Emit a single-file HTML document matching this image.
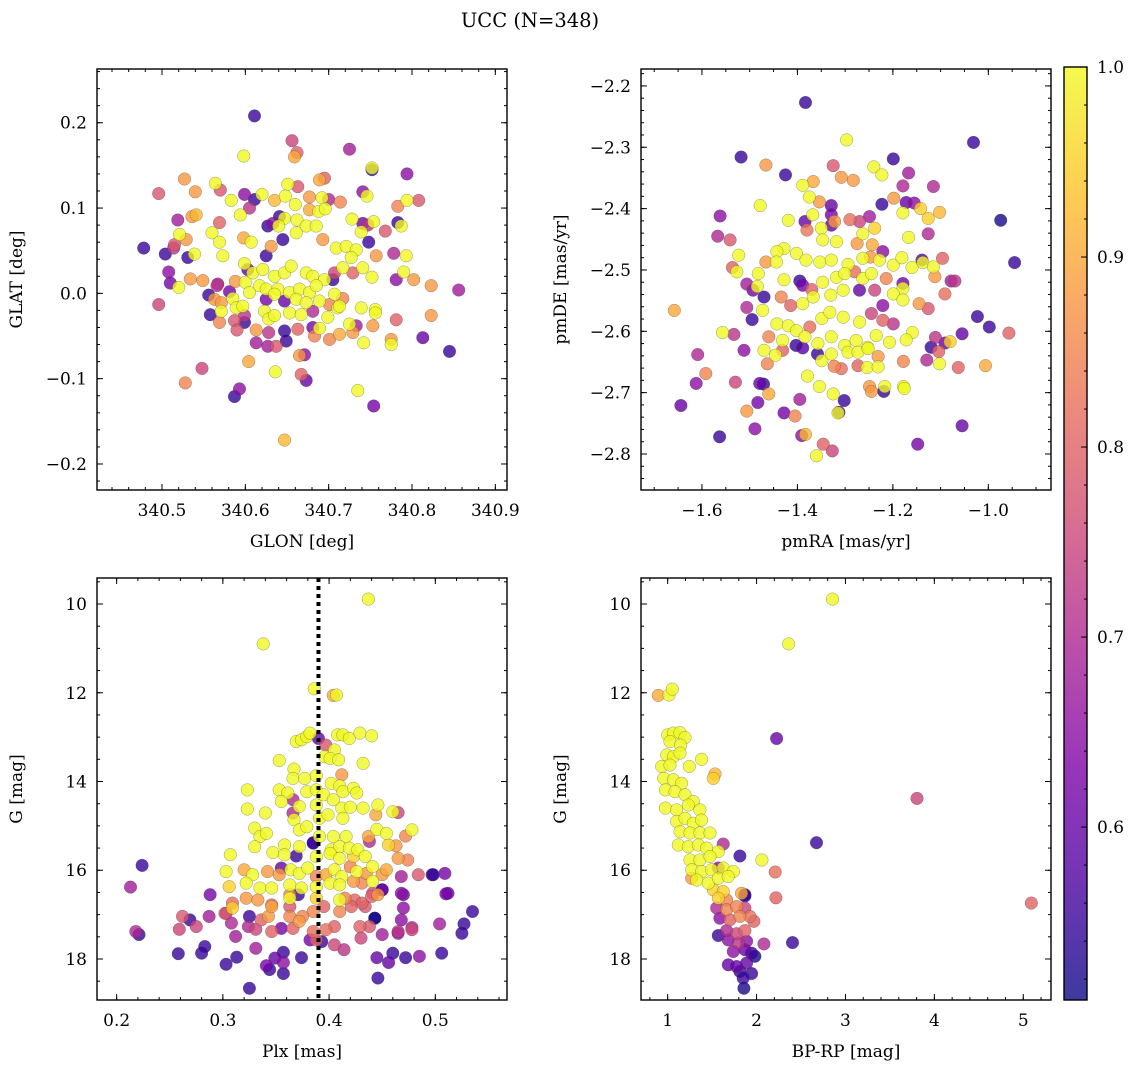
<!DOCTYPE html>
<html><head><meta charset="utf-8"><title>UCC (N=348)</title>
<style>
html,body{margin:0;padding:0;background:#fff;}
svg{display:block;font-family:"DejaVu Serif","Liberation Serif",serif;}
</style></head>
<body>
<svg id="fig" width="1136" height="1067" viewBox="0 0 1136 1067" xmlns="http://www.w3.org/2000/svg">
<defs>
<linearGradient id="plasmaGrad" x1="0" y1="1" x2="0" y2="0">
<stop offset="0" stop-color="#0d0887"/><stop offset="0.125" stop-color="#4c02a1"/><stop offset="0.25" stop-color="#7e03a8"/><stop offset="0.375" stop-color="#a92395"/><stop offset="0.5" stop-color="#cc4778"/><stop offset="0.625" stop-color="#e56b5d"/><stop offset="0.75" stop-color="#f89540"/><stop offset="0.875" stop-color="#fdc527"/><stop offset="1" stop-color="#f0f921"/>
</linearGradient>
</defs>
<text x="530" y="27" text-anchor="middle" font-size="19.5">UCC (N=348)</text>
</svg>
<script>
// ---------- Panel 1: GLON vs GLAT ----------
const glon = [340.611,340.656,340.662,340.659,340.598,340.725,340.752,340.752,340.794,340.527,340.496,340.54,340.564,340.57,340.651,340.663,340.689,340.695,340.599,340.611,340.62,340.583,340.635,340.648,340.66,340.677,340.692,340.7,340.714,340.741,340.746,340.783,340.794,340.808,340.594,340.605,340.677,340.688,340.696,340.519,340.536,340.541,340.569,340.641,340.647,340.662,340.673,340.685,340.728,340.754,340.741,340.747,340.783,340.787,340.768,340.521,340.529,340.56,340.569,340.598,340.607,340.627,340.633,340.64,340.645,340.661,340.739,340.748,340.478,340.504,340.514,340.515,340.531,340.539,340.573,340.599,340.603,340.625,340.631,340.693,340.709,340.721,340.733,340.727,340.757,340.778,340.793,340.508,340.51,340.52,340.534,340.549,340.566,340.588,340.6,340.609,340.621,340.635,340.647,340.655,340.673,340.681,340.695,340.707,340.717,340.729,340.741,340.752,340.781,340.79,340.802,340.823,340.856,340.496,340.556,340.567,340.581,340.558,340.563,340.571,340.571,340.585,340.589,340.597,340.605,340.617,340.625,340.639,340.653,340.665,340.677,340.685,340.625,340.635,340.647,340.661,340.673,340.689,340.705,340.707,340.701,340.717,340.711,340.739,340.756,340.756,340.823,340.569,340.587,340.59,340.599,340.599,340.623,340.628,340.635,340.653,340.667,340.681,340.699,340.713,340.613,340.628,340.647,340.663,340.681,340.689,340.683,340.701,340.713,340.725,340.733,340.729,340.742,340.753,340.775,340.775,340.781,340.813,340.845,340.613,340.627,340.637,340.649,340.665,340.671,340.604,340.636,340.667,340.673,340.548,340.528,340.593,340.587,340.735,340.754,340.647];
const glat = [0.208,0.179,0.165,0.16,0.161,0.169,0.145,0.147,0.14,0.134,0.117,0.119,0.129,0.121,0.128,0.125,0.133,0.135,0.116,0.11,0.116,0.109,0.109,0.114,0.104,0.113,0.112,0.11,0.107,0.119,0.114,0.102,0.109,0.109,0.092,0.1,0.098,0.096,0.099,0.086,0.09,0.092,0.083,0.09,0.088,0.086,0.079,0.079,0.087,0.084,0.082,0.08,0.083,0.079,0.073,0.069,0.063,0.071,0.06,0.065,0.06,0.079,0.082,0.079,0.063,0.071,0.072,0.06,0.053,0.046,0.053,0.057,0.042,0.046,0.044,0.035,0.028,0.044,0.055,0.063,0.053,0.055,0.051,0.042,0.044,0.047,0.044,0.025,0.012,0.007,0.017,0.015,0.009,0.014,0.013,0.024,0.028,0.02,0.024,0.032,0.024,0.02,0.016,0.024,0.03,0.024,0.03,0.019,0.016,0.025,0.016,0.009,0.004,-0.013,-0.002,0.011,0.002,-0.025,-0.007,-0.011,-0.021,-0.006,-0.017,-0.015,0.001,0.009,0.005,0.005,0.001,0.005,0.001,0.009,-0.007,-0.001,-0.009,-0.007,-0.011,-0.009,0.016,-0.001,-0.013,-0.006,-0.017,-0.017,-0.019,-0.023,-0.026,-0.034,-0.032,-0.043,-0.026,-0.034,-0.021,-0.03,-0.026,-0.023,-0.025,-0.021,-0.028,-0.015,-0.043,-0.046,-0.044,-0.042,-0.04,-0.041,-0.05,-0.054,-0.048,-0.036,-0.038,-0.046,-0.058,-0.038,-0.054,-0.06,-0.031,-0.052,-0.068,-0.058,-0.062,-0.062,-0.056,-0.073,-0.072,-0.08,-0.092,-0.095,-0.102,-0.088,-0.105,-0.112,-0.121,-0.114,-0.132,-0.172];
const prob1 = [0.55,0.75,0.8,0.9,1.0,0.68,0.55,1.0,0.65,0.88,0.78,0.88,1.0,0.78,1.0,0.78,0.9,0.8,0.65,0.55,1.0,1.0,0.92,1.0,1.0,0.88,1.0,0.7,0.85,0.65,1.0,0.85,1.0,0.78,1.0,0.72,0.9,1.0,1.0,0.68,0.88,0.92,0.8,0.55,1.0,1.0,1.0,1.0,1.0,1.0,0.62,0.72,0.55,1.0,0.78,1.0,0.88,1.0,1.0,0.9,1.0,0.55,0.65,1.0,0.55,1.0,1.0,0.55,0.55,0.55,0.72,0.78,0.55,1.0,1.0,1.0,0.6,0.55,0.88,0.88,1.0,1.0,1.0,1.0,0.88,0.7,1.0,0.65,0.62,1.0,0.88,0.88,0.72,0.88,1.0,1.0,1.0,1.0,1.0,1.0,1.0,1.0,1.0,0.75,1.0,0.8,1.0,1.0,0.65,1.0,0.88,0.88,0.68,0.75,0.55,0.68,0.62,0.55,0.88,0.88,1.0,1.0,1.0,1.0,1.0,1.0,1.0,1.0,1.0,1.0,1.0,1.0,0.62,1.0,0.6,1.0,1.0,1.0,0.55,1.0,0.85,0.85,1.0,1.0,1.0,1.0,0.88,0.85,0.78,0.78,0.72,0.55,1.0,1.0,1.0,1.0,1.0,0.7,1.0,1.0,0.88,0.72,0.55,0.8,0.62,1.0,0.85,0.85,0.9,1.0,0.68,0.88,1.0,0.88,0.88,1.0,0.8,0.6,0.55,0.68,0.68,0.78,0.55,0.88,0.65,0.9,1.0,0.8,0.6,0.75,0.85,0.65,0.55,1.0,0.62,0.92];

// ---------- Panel 2: pmRA vs pmDE ----------
const pmra = [-1.383,-1.031,-0.974,-0.945,-0.957,-1.518,-1.466,-1.425,-1.297,-1.199,-1.24,-1.223,-1.325,-1.308,-1.283,-1.167,-1.115,-1.179,-1.367,-1.389,-1.478,-1.375,-1.354,-1.329,-1.223,-1.198,-1.172,-1.155,-1.142,-1.179,-1.126,-1.102,-1.562,-1.567,-1.541,-1.419,-1.368,-1.329,-1.384,-1.38,-1.35,-1.329,-1.322,-1.29,-1.27,-1.249,-1.238,-1.263,-1.347,-1.318,-1.275,-1.243,-1.167,-1.126,-1.523,-1.428,-1.443,-1.402,-1.466,-1.444,-1.382,-1.353,-1.329,-1.294,-1.263,-1.247,-1.228,-1.221,-1.199,-1.181,-1.16,-1.139,-1.137,-1.096,-1.115,-1.536,-1.527,-1.482,-1.428,-1.395,-1.389,-1.37,-1.347,-1.318,-1.301,-1.28,-1.263,-1.245,-1.214,-1.179,-1.179,-1.112,-1.078,-1.506,-1.493,-1.484,-1.47,-1.434,-1.414,-1.389,-1.367,-1.33,-1.304,-1.27,-1.238,-1.221,-1.199,-1.179,-1.145,-1.126,-1.091,-1.07,-1.506,-1.495,-1.473,-1.443,-1.419,-1.402,-1.374,-1.349,-1.332,-1.304,-1.27,-1.245,-1.221,-1.199,-1.023,-0.998,-1.055,-1.111,-1.08,-1.091,-1.104,-1.12,-1.129,-1.102,-1.063,-1.006,-1.159,-1.172,-1.178,-1.207,-1.235,-1.253,-1.277,-1.301,-1.329,-1.357,-1.384,-1.403,-1.431,-1.46,-1.47,-1.446,-1.431,-1.389,-1.358,-1.349,-1.329,-1.308,-1.294,-1.273,-1.252,-1.231,-1.254,-1.231,-1.273,-1.323,-1.463,-1.557,-1.533,-1.512,-1.609,-1.592,-1.612,-1.644,-1.658,-1.563,-1.53,-1.479,-1.471,-1.46,-1.483,-1.506,-1.428,-1.405,-1.395,-1.489,-1.391,-1.383,-1.346,-1.327,-1.36,-1.379,-1.354,-1.325,-1.313,-1.315,-1.302,-1.249,-1.245,-1.219,-1.217,-1.178,-1.176,-1.055,-1.148];
const pmde = [-2.227,-2.292,-2.419,-2.488,-2.603,-2.316,-2.329,-2.345,-2.288,-2.319,-2.332,-2.345,-2.33,-2.349,-2.354,-2.342,-2.364,-2.363,-2.356,-2.362,-2.395,-2.381,-2.389,-2.395,-2.393,-2.383,-2.39,-2.391,-2.4,-2.407,-2.416,-2.406,-2.412,-2.445,-2.451,-2.419,-2.41,-2.41,-2.421,-2.435,-2.432,-2.427,-2.421,-2.418,-2.421,-2.413,-2.432,-2.441,-2.451,-2.454,-2.457,-2.459,-2.447,-2.441,-2.476,-2.465,-2.47,-2.473,-2.487,-2.487,-2.484,-2.487,-2.484,-2.491,-2.481,-2.479,-2.484,-2.47,-2.492,-2.48,-2.496,-2.484,-2.488,-2.481,-2.495,-2.496,-2.503,-2.506,-2.516,-2.518,-2.525,-2.532,-2.52,-2.512,-2.506,-2.503,-2.514,-2.506,-2.514,-2.522,-2.53,-2.511,-2.518,-2.523,-2.533,-2.527,-2.544,-2.544,-2.558,-2.555,-2.544,-2.541,-2.533,-2.533,-2.533,-2.558,-2.539,-2.549,-2.555,-2.563,-2.539,-2.518,-2.561,-2.581,-2.566,-2.588,-2.591,-2.599,-2.593,-2.579,-2.569,-2.577,-2.585,-2.571,-2.582,-2.588,-2.576,-2.593,-2.604,-2.61,-2.617,-2.619,-2.633,-2.626,-2.647,-2.653,-2.659,-2.656,-2.602,-2.614,-2.649,-2.618,-2.607,-2.626,-2.615,-2.623,-2.609,-2.62,-2.609,-2.623,-2.615,-2.609,-2.631,-2.639,-2.631,-2.627,-2.637,-2.648,-2.637,-2.661,-2.634,-2.634,-2.628,-2.641,-2.659,-2.658,-2.656,-2.657,-2.653,-2.602,-2.605,-2.631,-2.638,-2.669,-2.685,-2.721,-2.566,-2.772,-2.683,-2.685,-2.686,-2.702,-2.716,-2.73,-2.733,-2.738,-2.711,-2.759,-2.77,-2.768,-2.784,-2.795,-2.803,-2.673,-2.69,-2.702,-2.732,-2.733,-2.713,-2.69,-2.698,-2.698,-2.69,-2.69,-2.693,-2.754,-2.784];
const prob2 = [0.55,0.55,0.52,0.55,0.8,0.55,0.88,0.55,1.0,0.55,1.0,1.0,0.78,0.88,0.88,0.68,0.7,0.7,0.9,1.0,1.0,1.0,0.88,0.6,0.55,0.88,0.6,0.65,0.95,1.0,0.95,0.92,0.65,0.7,0.78,1.0,1.0,0.62,0.6,0.83,1.0,0.6,0.88,0.82,0.75,0.68,0.95,1.0,1.0,1.0,0.88,0.9,1.0,0.7,1.0,1.0,1.0,1.0,0.88,1.0,1.0,1.0,1.0,1.0,1.0,0.88,1.0,0.65,1.0,1.0,1.0,0.58,1.0,0.8,1.0,0.8,1.0,1.0,1.0,0.55,0.62,0.8,1.0,1.0,1.0,0.82,1.0,1.0,0.85,0.62,1.0,0.88,0.68,0.68,0.62,1.0,0.55,0.85,0.8,1.0,1.0,1.0,1.0,0.6,0.75,0.65,1.0,1.0,0.88,0.78,0.82,0.72,0.7,0.55,1.0,1.0,1.0,1.0,0.82,1.0,1.0,1.0,1.0,0.75,0.8,0.72,0.55,0.55,0.6,0.72,0.95,0.6,0.8,0.55,0.7,1.0,0.8,0.9,1.0,1.0,0.85,1.0,1.0,1.0,1.0,1.0,1.0,1.0,1.0,0.55,1.0,0.85,1.0,1.0,0.8,0.58,0.55,1.0,1.0,0.82,1.0,1.0,1.0,0.88,1.0,1.0,0.8,0.85,0.85,1.0,0.72,0.65,0.7,0.85,0.65,0.6,0.9,0.55,0.75,0.6,0.55,0.9,0.62,0.88,0.62,0.85,0.68,0.65,0.65,0.92,0.8,0.75,1.0,1.0,1.0,1.0,0.55,1.0,0.55,0.88,0.88,0.55,1.0,1.0,1.0,0.6,0.62];

// ---------- Panel 3: Plx vs G ----------
const plx = [0.437,0.338,0.386,0.404,0.407,0.369,0.374,0.379,0.382,0.39,0.397,0.408,0.413,0.419,0.429,0.44,0.405,0.396,0.401,0.409,0.353,0.367,0.432,0.412,0.366,0.377,0.388,0.402,0.41,0.323,0.353,0.361,0.366,0.379,0.388,0.395,0.404,0.413,0.423,0.426,0.355,0.372,0.388,0.412,0.42,0.432,0.446,0.46,0.465,0.444,0.323,0.34,0.366,0.367,0.391,0.399,0.413,0.33,0.335,0.341,0.372,0.379,0.391,0.404,0.416,0.437,0.445,0.454,0.472,0.478,0.385,0.438,0.33,0.358,0.372,0.402,0.41,0.419,0.427,0.456,0.463,0.307,0.347,0.358,0.369,0.388,0.401,0.41,0.423,0.434,0.465,0.474,0.303,0.32,0.328,0.342,0.353,0.355,0.364,0.372,0.38,0.388,0.397,0.405,0.412,0.42,0.426,0.435,0.441,0.45,0.454,0.468,0.484,0.497,0.509,0.306,0.322,0.335,0.346,0.363,0.374,0.388,0.401,0.41,0.423,0.431,0.441,0.45,0.468,0.446,0.441,0.213,0.224,0.288,0.51,0.512,0.322,0.333,0.346,0.363,0.371,0.363,0.388,0.41,0.415,0.424,0.431,0.44,0.309,0.303,0.309,0.346,0.363,0.385,0.395,0.41,0.421,0.434,0.47,0.47,0.535,0.527,0.504,0.478,0.465,0.468,0.45,0.443,0.438,0.429,0.43,0.405,0.414,0.405,0.397,0.388,0.382,0.385,0.375,0.372,0.363,0.355,0.366,0.343,0.346,0.336,0.325,0.331,0.324,0.312,0.308,0.302,0.287,0.275,0.269,0.262,0.259,0.218,0.221,0.258,0.28,0.283,0.303,0.313,0.325,0.331,0.341,0.344,0.349,0.357,0.357,0.357,0.374,0.393,0.385,0.445,0.446,0.456,0.46,0.472,0.485,0.506,0.525,0.498,0.45,0.443,0.465,0.478];
const gmag3 = [9.89,10.9,11.91,12.06,12.05,13.1,13.06,12.99,12.91,13.03,13.18,12.95,12.95,13.03,12.91,12.97,13.29,13.44,13.48,13.51,13.53,13.72,13.59,13.85,13.93,13.93,13.87,14.04,14.1,14.19,14.19,14.26,14.41,14.23,14.19,14.3,14.41,14.23,14.15,14.26,14.45,14.56,14.53,14.6,14.58,14.6,14.53,14.68,14.7,14.75,14.62,14.71,14.71,14.86,14.83,14.75,14.83,15.05,15.24,15.17,15.09,15.02,15.24,15.24,15.24,15.24,15.08,15.17,15.23,15.09,15.38,15.35,15.47,15.43,15.47,15.54,15.47,15.5,15.54,15.43,15.45,15.65,15.6,15.65,15.68,15.69,15.62,15.73,15.69,15.69,15.73,15.77,16.03,15.99,16.1,16.03,16.1,15.95,15.99,16.07,15.95,16.14,16.1,15.99,16.14,15.92,16.03,16.07,15.92,16.1,15.99,16.14,16.1,16.1,16.07,16.37,16.29,16.4,16.4,16.33,16.4,16.37,16.29,16.33,16.25,16.29,16.25,16.44,16.52,16.55,16.52,16.38,15.89,16.55,16.53,16.52,16.63,16.67,16.78,16.55,16.55,16.63,16.63,16.67,16.63,16.67,16.74,16.59,16.74,16.97,16.85,16.82,16.82,16.93,16.82,16.93,16.82,16.82,16.85,16.55,16.93,17.21,17.21,17.34,17.42,17.12,17.45,17.08,17.27,17.27,17.53,17.68,17.79,17.27,17.34,17.57,17.57,17.38,17.04,17.15,17.04,17.31,17.31,17.04,17.38,17.12,17.04,17.33,17.27,17.49,17.19,16.97,17.04,17.27,17.12,17.04,17.33,17.38,17.45,17.88,17.87,17.72,18.12,17.96,18.66,17.76,18.15,18.24,17.98,17.85,18.08,18.33,17.97,17.61,15.39,17.97,18.43,18.08,17.87,17.97,17.94,17.87,17.42,16.1,16.44,17.08,17.38,17.29];
const prob3 = [1,1,1,0.9,1,1,1,1,1,0.6,0.78,1,1,1,1,1,1,1,1,1,1,1,1,0.88,1,1,1,1,1,1,1,1,0.7,1,1,1,1,1,1,1,1,1,1,1,1,1,1,1,0.75,0.9,1,1,0.7,1,1,1,1,1,1,1,1,1,1,1,1,0.9,1,1,0.85,1,0.55,0.7,1,1,1,1,1,1,1,0.95,0.88,1,1,1,0.55,1,1,1,0.95,1,0.88,0.85,1,0.9,1,0.88,0.88,0.6,1,1,1,0.85,0.9,1,1,0.85,1,0.88,1,0.88,0.9,0.68,0.78,0.55,0.62,0.95,1,1,1,1,1,1,1,1,0.88,0.85,1,0.6,0.65,0.88,0.75,0.68,0.55,0.62,0.62,0.6,0.88,0.88,0.8,0.85,0.55,1,0.95,1,0.85,0.8,0.8,0.8,0.82,0.72,0.95,0.9,0.78,0.85,0.8,0.85,0.8,0.78,0.65,0.6,0.55,0.55,0.68,0.75,0.65,0.65,0.68,0.52,0.78,0.8,0.75,0.75,0.72,0.8,0.82,0.8,0.62,0.82,0.85,0.88,0.85,0.62,0.8,0.88,0.8,0.8,0.55,0.75,0.7,0.68,0.7,0.78,0.68,0.75,0.55,0.78,0.75,0.7,0.55,0.55,0.55,0.55,0.55,0.55,0.55,0.68,0.62,0.55,0.6,0.55,0.65,0.55,0.55,0.55,0.55,0.6,0.55,0.6,0.55,0.55,0.65,0.55,0.55,0.55,0.6,0.5,0.72,0.7];
const plxLine = [0.39];

// ---------- Panel 4: BP-RP vs G ----------
const bprp = [2.854,2.36,0.895,1.015,1.052,2.225,3.805,2.674,5.09,2.404,2.082,2.217,2.21,2.06,1.813,1.625,1.532,1.513,1.382,1.243,1.0,1.064,1.139,1.195,1.026,1.146,0.989,1.064,1.139,0.933,1.026,0.955,1.064,1.157,0.974,1.082,1.195,1.288,0.974,1.101,1.232,1.363,1.101,1.195,1.288,1.382,1.139,1.251,1.363,1.476,1.12,1.232,1.345,1.438,1.569,1.251,1.363,1.476,1.27,1.382,1.494,1.625,1.738,1.326,1.457,1.569,1.681,1.513,1.625,1.831,1.869,1.569,1.663,1.551,1.663,1.775,1.869,1.588,1.7,1.813,1.925,1.97,1.569,1.663,1.775,1.869,1.682,1.794,1.888,1.738,1.869,1.944,1.981,1.682,1.775,1.888,1.813,1.944,1.85,1.858,1.869,1.569,1.27];
const gmag4 = [9.89,10.9,12.06,12.05,11.92,13.03,14.38,15.38,16.74,17.63,17.66,16.62,16.04,15.77,15.68,15.41,13.83,13.93,13.5,13.66,12.95,12.91,12.9,13.01,13.1,13.18,13.4,13.44,13.36,13.66,13.63,13.93,13.96,14.04,14.19,14.23,14.3,14.45,14.6,14.64,14.53,14.64,14.9,14.83,14.94,14.87,15.13,15.16,15.16,15.16,15.43,15.47,15.43,15.5,15.58,15.77,15.77,15.69,15.99,16.03,15.99,15.95,16.03,16.22,16.29,16.18,16.14,16.44,16.48,16.52,16.58,16.63,16.67,16.85,16.89,16.82,16.85,17.08,17.12,17.04,17.04,17.15,17.47,17.36,17.43,17.36,17.57,17.64,17.6,17.83,17.79,17.87,17.94,18.13,18.17,18.09,18.28,18.33,18.43,18.66,16.55,15.95,16.18];
const prob4 = [1,1,0.9,1,1,0.6,0.75,0.55,0.8,0.55,0.7,0.8,0.82,1,0.55,0.7,0.92,0.95,1,1,1,1,1,1,1,1,1,1,1,1,1,1,1,1,1,1,1,1,1,1,1,1,1,1,1,1,1,1,1,1,1,1,1,1,1,1,1,1,1,1,1,1,1,1,1,1,1,0.95,0.95,0.9,0.55,0.95,0.85,0.7,0.85,0.85,0.75,0.65,0.8,0.85,0.82,0.8,0.55,0.7,0.75,0.8,0.65,0.72,0.65,0.65,0.6,0.55,0.52,0.6,0.6,0.6,0.55,0.55,0.55,0.52,0.52,0.65,0.88];

// ---------- Tick labels ----------
const p1XTicks = [340.5,340.6,340.7,340.8,340.9];
const p1YTicks = [-0.2,-0.1,0.0,0.1,0.2];
const p2XTicks = [-1.6,-1.4,-1.2,-1.0];
const p2YTicks = [-2.8,-2.7,-2.6,-2.5,-2.4,-2.3,-2.2];
const p3XTicks = [0.2,0.3,0.4,0.5];
const p3YTicks = [10,12,14,16,18];
const p4XTicks = [1,2,3,4,5];
const p4YTicks = [10,12,14,16,18];
const cbTicks = [0.6,0.7,0.8,0.9,1.0];
const cbRange = [0.509,1.0];

const NS = "http://www.w3.org/2000/svg";
const svg = document.getElementById('fig');
function mk(tag, attrs, parent){
  const e = document.createElementNS(NS, tag);
  for (const k in attrs) e.setAttribute(k, attrs[k]);
  (parent||svg).appendChild(e);
  return e;
}
const stops = [[13,8,135],[76,2,161],[126,3,168],[169,35,149],[204,71,120],[229,107,93],[248,149,64],[253,197,39],[240,249,33]];
function plasma(p){
  let t = (p - cbRange[0])/(cbRange[1]-cbRange[0]);
  t = Math.max(0, Math.min(1, t));
  const s = t*8, i = Math.min(7, Math.floor(s)), f = s - i;
  const a = stops[i], b = stops[i+1];
  return 'rgb(' + [0,1,2].map(k => Math.round(a[k]+(b[k]-a[k])*f)).join(',') + ')';
}
function fmt(v, d){ const s = v.toFixed(d); return s.replace('-', '\u2212'); }

function panel(cfg){
  const g = mk('g', {});
  
  
  const L = cfg.box[0], R = cfg.box[1], T = cfg.box[2], B = cfg.box[3];
  const sx = v => L + (v - cfg.xr[0])/(cfg.xr[1]-cfg.xr[0])*(R-L);
  const sy = cfg.invert ? (v => T + (v - cfg.yr[0])/(cfg.yr[1]-cfg.yr[0])*(B-T))
                        : (v => B - (v - cfg.yr[0])/(cfg.yr[1]-cfg.yr[0])*(B-T));
  const clip = mk('clipPath', {id: cfg.name+'-clip'}, g);
  mk('rect', {x:L, y:T, width:R-L, height:B-T}, clip);
  const pts = mk('g', {'clip-path':'url(#'+cfg.name+'-clip)'}, g);
  
  
  const n = Math.min(cfg.xs.length, cfg.ys.length, cfg.ps.length);
  const idx = [];
  for (let i=0;i<n;i++) idx.push(i);
  idx.sort((a,b)=>cfg.ps[a]-cfg.ps[b]);
  idx.forEach(i=>{
    const c = mk('circle', {cx:sx(cfg.xs[i]).toFixed(1), cy:sy(cfg.ys[i]).toFixed(1), r:6.3, fill:plasma(cfg.ps[i]), 'fill-opacity':0.8, stroke:'#3a3a3a', 'stroke-opacity':0.5, 'stroke-width':0.5}, pts);
    
    
  });
  if (cfg.vline){
    cfg.vline.forEach(v=>{
      const ln = mk('line', {x1:sx(v), x2:sx(v), y1:T, y2:B, stroke:'#000', 'stroke-width':4, 'stroke-dasharray':'4 4', 'clip-path':'url(#'+cfg.name+'-clip)'}, g);
      
      
    });
  }
  const tk = mk('g', {stroke:'#000', 'stroke-width':1}, g);
  function ticksX(step, len){
    const start = Math.ceil(cfg.xr[0]/step - 1e-6);
    for (let k=start; k*step <= cfg.xr[1]+1e-9; k++){
      const x = sx(k*step);
      mk('line', {x1:x, x2:x, y1:B, y2:B-len}, tk);
      mk('line', {x1:x, x2:x, y1:T, y2:T+len}, tk);
    }
  }
  function ticksY(step, len){
    const start = Math.ceil(cfg.yr[0]/step - 1e-6);
    for (let k=start; k*step <= cfg.yr[1]+1e-9; k++){
      const y = sy(k*step);
      mk('line', {x1:L, x2:L+len, y1:y, y2:y}, tk);
      mk('line', {x1:R, x2:R-len, y1:y, y2:y}, tk);
    }
  }
  ticksX(cfg.xminor, 3); ticksY(cfg.yminor, 3);
  cfg.xt.forEach(v=>{ const x=sx(v); mk('line',{x1:x,x2:x,y1:B,y2:B-6},tk); mk('line',{x1:x,x2:x,y1:T,y2:T+6},tk); });
  cfg.yt.forEach(v=>{ const y=sy(v); mk('line',{x1:L,x2:L+6,y1:y,y2:y},tk); mk('line',{x1:R,x2:R-6,y1:y,y2:y},tk); });
  const frame = mk('rect', {x:L, y:T, width:R-L, height:B-T, fill:'none', stroke:'#000', 'stroke-width':1.4}, g);
  
  
  cfg.xt.forEach(v=>{
    const t = mk('text', {x:sx(v), y:B+26, 'text-anchor':'middle', 'font-size':17}, g);
    t.textContent = fmt(v, cfg.xd);
    
    
  });
  cfg.yt.forEach(v=>{
    const t = mk('text', {x:L-10, y:sy(v)+6, 'text-anchor':'end', 'font-size':17}, g);
    t.textContent = fmt(v, cfg.yd);
    
    
  });
  const xl = mk('text', {x:(L+R)/2, y:B+57, 'text-anchor':'middle', 'font-size':17}, g);
  xl.textContent = cfg.xlabel;
  
  
  const yx = L - 75, yy = (T+B)/2;
  const yl = mk('text', {x:yx, y:yy, 'text-anchor':'middle', 'font-size':17, transform:'rotate(-90 '+yx+' '+yy+')'}, g);
  yl.textContent = cfg.ylabel;
  
  
}

panel({name:'glon-glat-panel', box:[97,507,69,490], xr:[340.422,340.914], yr:[-0.2305,0.263], invert:false,
  xs:glon, ys:glat, ps:prob1, xt:p1XTicks, yt:p1YTicks, xminor:0.02, yminor:0.02, xd:1, yd:1, xlabel:'GLON [deg]', ylabel:'GLAT [deg]'});
panel({name:'pm-panel', box:[641,1051,69,490], xr:[-1.7277,-0.8687], yr:[-2.8587,-2.1724], invert:false,
  xs:pmra, ys:pmde, ps:prob2, xt:p2XTicks, yt:p2YTicks, xminor:0.05, yminor:0.02, xd:1, yd:1, xlabel:'pmRA [mas/yr]', ylabel:'pmDE [mas/yr]'});
panel({name:'plx-g-panel', box:[97,507,578,1000], xr:[0.1815,0.5675], yr:[9.414,18.924], invert:true,
  xs:plx, ys:gmag3, ps:prob3, xt:p3XTicks, yt:p3YTicks, xminor:0.02, yminor:0.5, xd:1, yd:0, xlabel:'Plx [mas]', ylabel:'G [mag]', vline:plxLine});
panel({name:'cmd-panel', box:[641,1051,578,1000], xr:[0.70,5.312], yr:[9.414,18.924], invert:true,
  xs:bprp, ys:gmag4, ps:prob4, xt:p4XTicks, yt:p4YTicks, xminor:0.2, yminor:0.5, xd:0, yd:0, xlabel:'BP-RP [mag]', ylabel:'G [mag]'});

(function(){
  const g = mk('g', {});
  
  
  const L=1064, R=1087, T=67, B=1000;
  const cy = v => B - (v - cbRange[0])/(cbRange[1]-cbRange[0])*(B-T);
  mk('rect', {x:L, y:T, width:R-L, height:B-T, fill:'url(#plasmaGrad)', 'fill-opacity':0.8}, g);
  const tk = mk('g', {stroke:'#000', 'stroke-width':1}, g);
  for (let k=Math.ceil(cbRange[0]/0.02); k*0.02<=cbRange[1]+1e-9; k++){
    const y = cy(k*0.02); mk('line', {x1:R, x2:R-3, y1:y, y2:y}, tk);
  }
  cbTicks.forEach(v=>{
    const y = cy(v);
    mk('line', {x1:R, x2:R-6, y1:y, y2:y}, tk);
    const t = mk('text', {x:R+10, y:y+6, 'font-size':17}, g);
    t.textContent = v.toFixed(1);
    
    
  });
  mk('rect', {x:L, y:T, width:R-L, height:B-T, fill:'none', stroke:'#000', 'stroke-width':1.4}, g);
})();
</script>
</body></html>
